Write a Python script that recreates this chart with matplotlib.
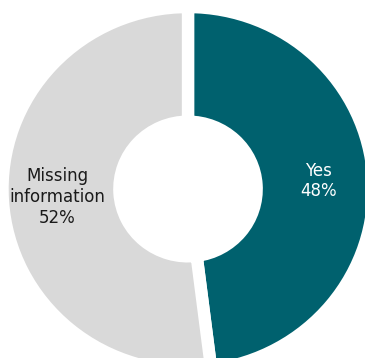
import matplotlib
matplotlib.use("Agg")
import matplotlib.pyplot as plt

categories = ["Yes", "Missing\ninformation"]
values = [48, 52]
colors = ["#00616E", "#D9D9D9"]
text_colors = ["white", "#1a1a1a"]

fig = plt.figure(figsize=(3.65, 3.58), dpi=100)
ax = fig.add_axes([0, 0, 1, 1])

labels = [f"{c}\n{v}%" for c, v in zip(categories, values)]
wedges, texts = ax.pie(
    values,
    labels=labels,
    colors=colors,
    startangle=90,
    counterclock=False,
    radius=1.0,
    labeldistance=0.707,
    wedgeprops=dict(width=0.63, edgecolor="white", linewidth=8.9),
    textprops=dict(fontsize=12, family="DejaVu Sans"),
)
for t, tc in zip(texts, text_colors):
    t.set_color(tc)
    t.set_horizontalalignment("center")
    t.set_verticalalignment("center")
    t.set_multialignment("center")

ax.set_aspect("auto")
ax.set_xlim(-1.0135, 0.954)
ax.set_ylim(-0.9286, 1.0385)
ax.axis("off")

fig.savefig("out.png", dpi=100)
